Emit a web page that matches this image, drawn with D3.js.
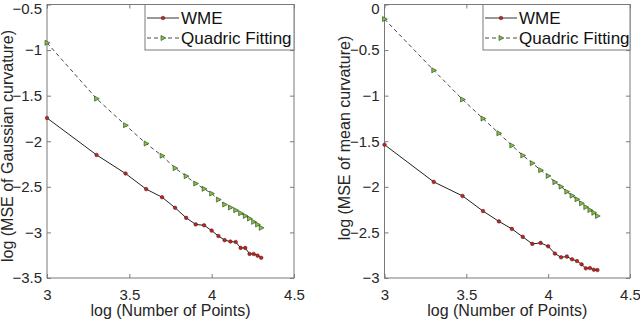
<!DOCTYPE html>
<html>
<head>
<meta charset="utf-8">
<script src="https://cdn.jsdelivr.net/npm/d3@7"></script>
<style>
  body { margin: 0; background: #fff; }
  svg { display: block; font-family: "Liberation Sans", Arial, sans-serif; }
</style>
</head>
<body>
<div id="chart"></div>
<script>
/************************************************************
 * 1) Data (read off the figure)
 ************************************************************/
// log10 of number of points: 1000, 2000, ... 20000
const logPoints = [3, 3.301, 3.477, 3.602, 3.699, 3.778, 3.845, 3.903, 3.954, 4,
  4.041, 4.079, 4.114, 4.146, 4.176, 4.204, 4.230, 4.255, 4.279, 4.301];

const gaussWME = [-1.745, -2.15, -2.354, -2.525, -2.614, -2.73, -2.84, -2.912, -2.922, -2.98,
  -3.04, -3.085, -3.10, -3.105, -3.17, -3.17, -3.236, -3.236, -3.255, -3.278];
const gaussQuadric = [-0.92, -1.533, -1.824, -2.025, -2.159, -2.295, -2.383, -2.464, -2.522, -2.574,
  -2.64, -2.694, -2.727, -2.756, -2.789, -2.819, -2.848, -2.884, -2.914, -2.95];

const meanWME = [-1.538, -1.946, -2.10, -2.266, -2.379, -2.461, -2.549, -2.626, -2.615, -2.652,
  -2.732, -2.773, -2.765, -2.795, -2.814, -2.85, -2.894, -2.891, -2.909, -2.913];
const meanQuadric = [-0.16, -0.722, -1.042, -1.251, -1.413, -1.546, -1.656, -1.74, -1.817, -1.88,
  -1.949, -1.998, -2.053, -2.097, -2.137, -2.181, -2.222, -2.255, -2.284, -2.32];

const xTicks = [3, 3.5, 4, 4.5];
const gaussTicks = [-3.5, -3, -2.5, -2, -1.5, -1, -0.5];
const meanTicks = [-3, -2.5, -2, -1.5, -1, -0.5, 0];

const seriesNames = ['WME', 'Quadric Fitting'];

/************************************************************
 * 2) SVG
 ************************************************************/
const svg = d3.select('#chart')
  .append('svg')
  .attr('width', 640)
  .attr('height', 320);

const axisColor = '#262626';
const boxColor = '#7a7a7a';

/************************************************************
 * 3) One panel
 ************************************************************/
function drawPanel(p) {
  const x = d3.scaleLinear().domain([3, 4.5]).range([p.left, p.right]);
  const y = d3.scaleLinear().domain(p.yDomain).range([p.bottom, p.top]);
  const g = svg.append('g');

  // box
  g.append('rect')
    .attr('x', p.left).attr('y', p.top)
    .attr('width', p.right - p.left).attr('height', p.bottom - p.top)
    .attr('fill', 'none').attr('stroke', boxColor).attr('stroke-width', 1);

  // ticks inward on all four sides, labels bottom/left
  const fmt = d3.format('~g');
  const bottomAxis = d3.axisBottom(x).tickValues(xTicks).tickSize(-4).tickFormat(fmt);
  const topAxis = d3.axisTop(x).tickValues(xTicks).tickSize(-4).tickFormat('');
  const leftAxis = d3.axisLeft(y).tickValues(p.yTicks).tickSize(-4).tickFormat(fmt);
  const rightAxis = d3.axisRight(y).tickValues(p.yTicks).tickSize(-4).tickFormat('');

  [[bottomAxis, `translate(0,${p.bottom})`, 'b'], [topAxis, `translate(0,${p.top})`, 't'],
   [leftAxis, `translate(${p.left},0)`, 'l'], [rightAxis, `translate(${p.right},0)`, 'r']]
    .forEach(([ax, tr, side]) => {
      const a = g.append('g').attr('transform', tr).call(ax);
      a.select('.domain').remove();
      a.selectAll('line').attr('stroke', boxColor);
      a.selectAll('text')
        .attr('fill', axisColor)
        .style('font-size', '15px');
      // nudge tick labels like MATLAB
      if (side === 'b') a.selectAll('text').attr('y', 11);
      if (side === 'l') {
        a.selectAll('text').attr('x', -5);
        // keep the top label inside the picture
        a.selectAll('.tick').filter(d => d === p.yDomain[1]).select('text').attr('dy', '0.62em');
      }
    });

  // axis labels
  g.append('text')
    .attr('x', (p.left + p.right) / 2)
    .attr('y', 316)
    .attr('text-anchor', 'middle')
    .attr('fill', axisColor)
    .style('font-size', '16px')
    .text('log (Number of Points)');

  g.append('text')
    .attr('transform', `translate(${p.yLabelX},${p.yLabelY}) rotate(-90)`)
    .attr('text-anchor', 'middle')
    .attr('fill', axisColor)
    .style('font-size', '16px')
    .text(p.yLabel);

  const pts = s => logPoints.map((v, i) => [x(v), y(s[i])]);
  const line = d3.line();

  // Quadric fitting: dashed with right-pointing triangles
  g.append('path')
    .attr('d', line(pts(p.quadric)))
    .attr('fill', 'none').attr('stroke', '#333').attr('stroke-width', 0.9)
    .attr('stroke-dasharray', '4,3');
  g.selectAll('.tri')
    .data(pts(p.quadric))
    .enter().append('path')
    .attr('class', 'tri')
    .attr('d', d => `M${d[0] - 2},${d[1] - 2.5}L${d[0] + 2.8},${d[1]}L${d[0] - 2},${d[1] + 2.5}Z`)
    .attr('fill', '#7cc63a').attr('stroke', '#2a3a1a').attr('stroke-width', 0.6);

  // WME: solid with small red dots
  g.append('path')
    .attr('d', line(pts(p.wme)))
    .attr('fill', 'none').attr('stroke', '#222').attr('stroke-width', 1);
  g.selectAll('.dot')
    .data(pts(p.wme))
    .enter().append('circle')
    .attr('class', 'dot')
    .attr('cx', d => d[0]).attr('cy', d => d[1])
    .attr('r', 1.8)
    .attr('fill', '#c8201a').attr('stroke', '#3a1a1a').attr('stroke-width', 0.5);

  // legend
  const lg = g.append('g');
  lg.append('rect')
    .attr('x', p.legendX).attr('y', p.top)
    .attr('width', p.right - p.legendX).attr('height', 50 - p.top)
    .attr('fill', '#fff').attr('stroke', boxColor).attr('stroke-width', 1);

  seriesNames.forEach((name, i) => {
    const ly = 18 + i * 20;
    const x0 = p.legendX + 2, x1 = p.legendX + 34, xm = (x0 + x1) / 2;
    lg.append('line')
      .attr('x1', x0).attr('x2', x1).attr('y1', ly).attr('y2', ly)
      .attr('stroke', '#333').attr('stroke-width', i === 0 ? 1 : 0.9)
      .attr('stroke-dasharray', i === 0 ? null : '4,3');
    if (i === 0) {
      lg.append('circle').attr('cx', xm).attr('cy', ly).attr('r', 1.8)
        .attr('fill', '#c8201a').attr('stroke', '#3a1a1a').attr('stroke-width', 0.5);
    } else {
      lg.append('path')
        .attr('d', `M${xm - 2},${ly - 2.5}L${xm + 2.8},${ly}L${xm - 2},${ly + 2.5}Z`)
        .attr('fill', '#7cc63a').attr('stroke', '#2a3a1a').attr('stroke-width', 0.6);
    }
    lg.append('text')
      .attr('x', x1 + 2).attr('y', ly + 6)
      .attr('fill', '#111')
      .style('font-size', '17px')
      .text(name);
  });
}

/************************************************************
 * 4) Two panels
 ************************************************************/
drawPanel({
  left: 47, right: 294, top: 4.5, bottom: 278,
  yDomain: [-3.5, -0.5], yTicks: gaussTicks,
  wme: gaussWME, quadric: gaussQuadric,
  yLabel: 'log (MSE of Gaussian curvature)', yLabelX: 12.5, yLabelY: 146,
  legendX: 145
});

drawPanel({
  left: 384.5, right: 630, top: 4.5, bottom: 278,
  yDomain: [-3, 0], yTicks: meanTicks,
  wme: meanWME, quadric: meanQuadric,
  yLabel: 'log (MSE of mean curvature)', yLabelX: 350, yLabelY: 138,
  legendX: 483
});
</script>
</body>
</html>
